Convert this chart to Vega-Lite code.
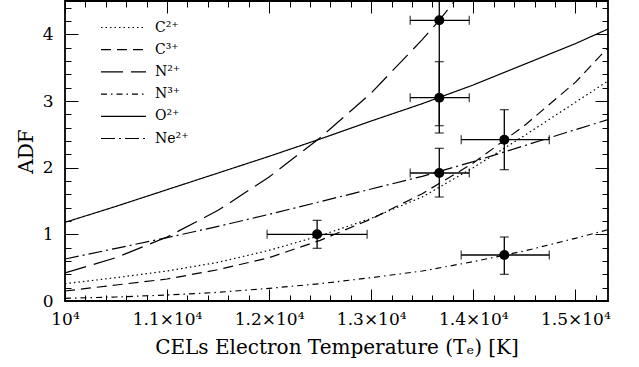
{
  "$schema": "https://vega.github.io/schema/vega-lite/v6.json",
  "autosize": {"type": "none"},
  "padding": {"left": 65, "top": 1, "right": 31, "bottom": 66},
  "width": 543,
  "height": 300,
  "background": "white",
  "config": {
    "view": {"stroke": "black", "strokeWidth": 1.8},
    "font": "DejaVu Serif",
    "axis": {"domain": false, "ticks": false, "gridColor": "black", "gridOpacity": 1, "gridWidth": 1, "labelColor": "black", "labelFont": "DejaVu Serif", "labelFontSize": 17, "titleFont": "DejaVu Serif", "titleFontSize": 20, "titleFontWeight": "normal", "titleColor": "black", "labelFlush": false, "labelOverlap": false}
  },
  "datasets": {
    "curves": [
      {"ion": "C²⁺", "T": 10000, "ADF": 0.26}, {"ion": "C²⁺", "T": 10500, "ADF": 0.35}, {"ion": "C²⁺", "T": 11000, "ADF": 0.45}, {"ion": "C²⁺", "T": 11500, "ADF": 0.58}, {"ion": "C²⁺", "T": 12000, "ADF": 0.76}, {"ion": "C²⁺", "T": 12500, "ADF": 0.98}, {"ion": "C²⁺", "T": 13000, "ADF": 1.24}, {"ion": "C²⁺", "T": 13500, "ADF": 1.56}, {"ion": "C²⁺", "T": 14000, "ADF": 2.0}, {"ion": "C²⁺", "T": 14500, "ADF": 2.48}, {"ion": "C²⁺", "T": 15000, "ADF": 2.98}, {"ion": "C²⁺", "T": 15320, "ADF": 3.3},
      {"ion": "C³⁺", "T": 10000, "ADF": 0.15}, {"ion": "C³⁺", "T": 10500, "ADF": 0.24}, {"ion": "C³⁺", "T": 11000, "ADF": 0.33}, {"ion": "C³⁺", "T": 11500, "ADF": 0.47}, {"ion": "C³⁺", "T": 12000, "ADF": 0.65}, {"ion": "C³⁺", "T": 12500, "ADF": 0.91}, {"ion": "C³⁺", "T": 13000, "ADF": 1.23}, {"ion": "C³⁺", "T": 13500, "ADF": 1.61}, {"ion": "C³⁺", "T": 14000, "ADF": 2.07}, {"ion": "C³⁺", "T": 14500, "ADF": 2.63}, {"ion": "C³⁺", "T": 15000, "ADF": 3.28}, {"ion": "C³⁺", "T": 15320, "ADF": 3.8},
      {"ion": "N²⁺", "T": 10000, "ADF": 0.42}, {"ion": "N²⁺", "T": 10500, "ADF": 0.65}, {"ion": "N²⁺", "T": 11000, "ADF": 0.96}, {"ion": "N²⁺", "T": 11500, "ADF": 1.36}, {"ion": "N²⁺", "T": 12000, "ADF": 1.86}, {"ion": "N²⁺", "T": 12500, "ADF": 2.45}, {"ion": "N²⁺", "T": 13000, "ADF": 3.12}, {"ion": "N²⁺", "T": 13500, "ADF": 3.92}, {"ion": "N²⁺", "T": 13667, "ADF": 4.21}, {"ion": "N²⁺", "T": 14000, "ADF": 4.85},
      {"ion": "N³⁺", "T": 10000, "ADF": 0.04}, {"ion": "N³⁺", "T": 10500, "ADF": 0.06}, {"ion": "N³⁺", "T": 11000, "ADF": 0.09}, {"ion": "N³⁺", "T": 11500, "ADF": 0.13}, {"ion": "N³⁺", "T": 12000, "ADF": 0.19}, {"ion": "N³⁺", "T": 12500, "ADF": 0.26}, {"ion": "N³⁺", "T": 13000, "ADF": 0.35}, {"ion": "N³⁺", "T": 13500, "ADF": 0.45}, {"ion": "N³⁺", "T": 14000, "ADF": 0.59}, {"ion": "N³⁺", "T": 14500, "ADF": 0.75}, {"ion": "N³⁺", "T": 15000, "ADF": 0.94}, {"ion": "N³⁺", "T": 15320, "ADF": 1.07},
      {"ion": "O²⁺", "T": 10000, "ADF": 1.18}, {"ion": "O²⁺", "T": 10500, "ADF": 1.42}, {"ion": "O²⁺", "T": 11000, "ADF": 1.67}, {"ion": "O²⁺", "T": 11500, "ADF": 1.92}, {"ion": "O²⁺", "T": 12000, "ADF": 2.17}, {"ion": "O²⁺", "T": 12500, "ADF": 2.43}, {"ion": "O²⁺", "T": 13000, "ADF": 2.7}, {"ion": "O²⁺", "T": 13500, "ADF": 2.96}, {"ion": "O²⁺", "T": 14000, "ADF": 3.24}, {"ion": "O²⁺", "T": 14500, "ADF": 3.55}, {"ion": "O²⁺", "T": 15000, "ADF": 3.86}, {"ion": "O²⁺", "T": 15320, "ADF": 4.08},
      {"ion": "Ne²⁺", "T": 10000, "ADF": 0.63}, {"ion": "Ne²⁺", "T": 10500, "ADF": 0.79}, {"ion": "Ne²⁺", "T": 11000, "ADF": 0.95}, {"ion": "Ne²⁺", "T": 11500, "ADF": 1.12}, {"ion": "Ne²⁺", "T": 12000, "ADF": 1.3}, {"ion": "Ne²⁺", "T": 12500, "ADF": 1.49}, {"ion": "Ne²⁺", "T": 13000, "ADF": 1.68}, {"ion": "Ne²⁺", "T": 13500, "ADF": 1.87}, {"ion": "Ne²⁺", "T": 14000, "ADF": 2.09}, {"ion": "Ne²⁺", "T": 14500, "ADF": 2.33}, {"ion": "Ne²⁺", "T": 15000, "ADF": 2.57}, {"ion": "Ne²⁺", "T": 15320, "ADF": 2.72}
    ],
    "points": [
      {"T": 12470, "ADF": 1.0, "Tlo": 11980, "Thi": 12960, "lo": 0.79, "hi": 1.21},
      {"T": 13667, "ADF": 4.21, "Tlo": 13382, "Thi": 13961, "lo": 2.52, "hi": 5.0},
      {"T": 13667, "ADF": 3.05, "Tlo": 13382, "Thi": 13961, "lo": 2.63, "hi": 3.59},
      {"T": 13667, "ADF": 1.92, "Tlo": 13382, "Thi": 13961, "lo": 1.56, "hi": 2.29},
      {"T": 14304, "ADF": 2.42, "Tlo": 13882, "Thi": 14745, "lo": 1.97, "hi": 2.87},
      {"T": 14304, "ADF": 0.69, "Tlo": 13882, "Thi": 14745, "lo": 0.4, "hi": 0.96}
    ]
  },
  "resolve": {"axis": {"x": "independent", "y": "independent"}},
  "layer": [
    {
      "data": {"name": "curves"},
      "mark": {"type": "line", "color": "black", "strokeWidth": 1.2, "clip": true},
      "encoding": {
        "x": {"field": "T", "type": "quantitative", "scale": {"domain": [10000, 15320], "nice": false, "zero": false},
          "axis": {"orient": "bottom", "grid": true, "gridDash": [12, 276, 12, 0], "values": [10000, 11000, 12000, 13000, 14000, 15000], "labelPadding": 10, "labelExpr": "datum.value == 10000 ? '10⁴' : format(datum.value / 10000, '.1f') + '×10⁴'", "title": "CELs Electron Temperature (Tₑ) [K]", "titlePadding": 10}},
        "y": {"field": "ADF", "type": "quantitative", "scale": {"domain": [0, 4.5], "nice": false, "zero": false},
          "axis": {"orient": "left", "grid": true, "gridDash": [13, 517, 13, 0], "values": [0, 1, 2, 3, 4], "labelPadding": 12, "title": "ADF", "titlePadding": 6}},
        "strokeDash": {"field": "ion", "type": "nominal",
          "scale": {"domain": ["C²⁺", "C³⁺", "N²⁺", "N³⁺", "O²⁺", "Ne²⁺"], "range": [[1.5, 3], [10, 6], [22, 8], [6, 4, 1.5, 4], [1, 0], [14, 4, 2, 4]]},
          "legend": {"orient": "none", "legendX": 50, "legendY": 18, "title": null, "symbolType": "M-3,0H3", "symbolSize": 225, "symbolStrokeWidth": 1.2, "symbolStrokeColor": "black", "symbolFillColor": "transparent", "rowPadding": 6.2, "labelOffset": 23, "labelFont": "DejaVu Serif", "labelFontSize": 14, "labelColor": "black", "padding": 0}}
      }
    },
    {
      "mark": {"type": "rule", "color": "black", "strokeWidth": 1},
      "encoding": {"y": {"datum": 1, "type": "quantitative", "axis": null}}
    },
    {
      "data": {"name": "points"},
      "mark": {"type": "rule", "color": "black", "strokeWidth": 1.3, "clip": true},
      "encoding": {
        "x": {"field": "T", "type": "quantitative", "axis": {"orient": "bottom", "grid": true, "gridDash": [6, 288, 6, 0], "values": [10000, 10200, 10400, 10600, 10800, 11000, 11200, 11400, 11600, 11800, 12000, 12200, 12400, 12600, 12800, 13000, 13200, 13400, 13600, 13800, 14000, 14200, 14400, 14600, 14800, 15000, 15200], "labels": false, "title": null}},
        "y": {"field": "lo", "type": "quantitative", "axis": {"orient": "left", "grid": true, "gridDash": [6, 531, 6, 0], "values": [0, 0.2, 0.4, 0.6, 0.8, 1, 1.2, 1.4, 1.6, 1.8, 2, 2.2, 2.4, 2.6, 2.8, 3, 3.2, 3.4, 3.6, 3.8, 4, 4.2, 4.4], "labels": false, "title": null}},
        "y2": {"field": "hi"}
      }
    },
    {
      "data": {"name": "points"},
      "mark": {"type": "tick", "orient": "horizontal", "color": "black", "size": 9, "thickness": 1.3, "clip": true},
      "encoding": {
        "x": {"field": "T", "type": "quantitative", "axis": null},
        "y": {"field": "lo", "type": "quantitative", "axis": null}
      }
    },
    {
      "data": {"name": "points"},
      "mark": {"type": "tick", "orient": "horizontal", "color": "black", "size": 9, "thickness": 1.3, "clip": true},
      "encoding": {
        "x": {"field": "T", "type": "quantitative", "axis": null},
        "y": {"field": "hi", "type": "quantitative", "axis": null}
      }
    },
    {
      "data": {"name": "points"},
      "mark": {"type": "rule", "color": "black", "strokeWidth": 1.3, "clip": true},
      "encoding": {
        "x": {"field": "Tlo", "type": "quantitative", "axis": null},
        "x2": {"field": "Thi"},
        "y": {"field": "ADF", "type": "quantitative", "axis": null}
      }
    },
    {
      "data": {"name": "points"},
      "mark": {"type": "tick", "orient": "vertical", "color": "black", "size": 9, "thickness": 1.3, "clip": true},
      "encoding": {
        "x": {"field": "Tlo", "type": "quantitative", "axis": null},
        "y": {"field": "ADF", "type": "quantitative", "axis": null}
      }
    },
    {
      "data": {"name": "points"},
      "mark": {"type": "tick", "orient": "vertical", "color": "black", "size": 9, "thickness": 1.3, "clip": true},
      "encoding": {
        "x": {"field": "Thi", "type": "quantitative", "axis": null},
        "y": {"field": "ADF", "type": "quantitative", "axis": null}
      }
    },
    {
      "data": {"name": "points"},
      "mark": {"type": "circle", "color": "black", "size": 100, "opacity": 1, "clip": true},
      "encoding": {
        "x": {"field": "T", "type": "quantitative", "axis": null},
        "y": {"field": "ADF", "type": "quantitative", "axis": null}
      }
    }
  ]
}
